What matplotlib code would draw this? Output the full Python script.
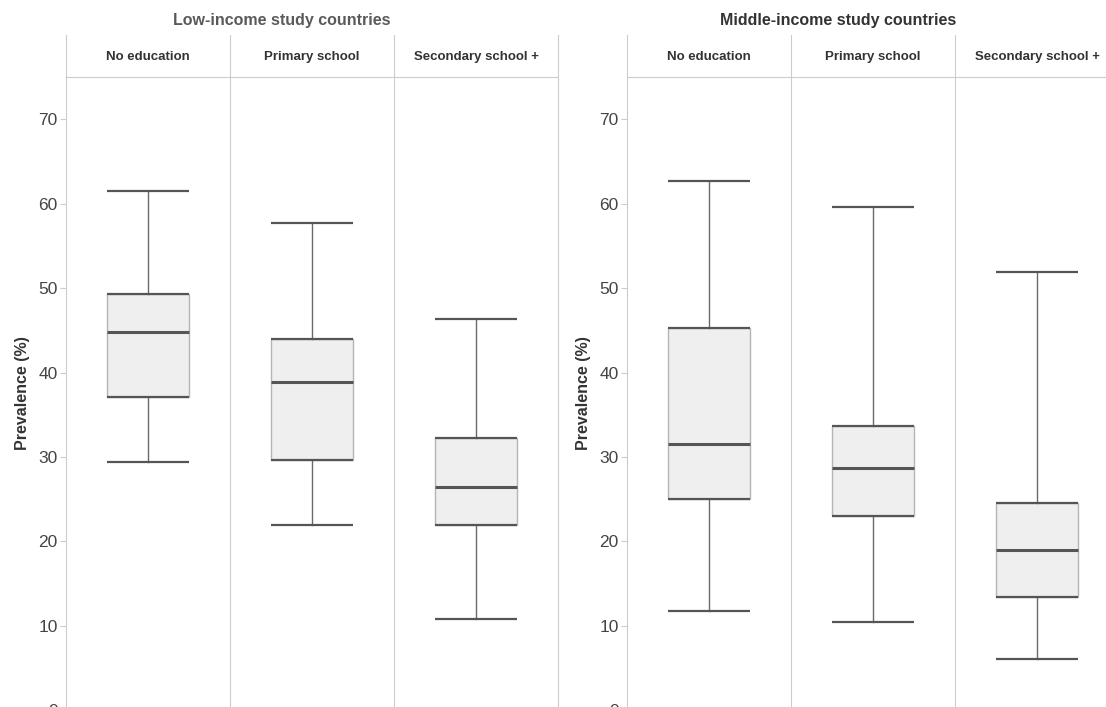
import numpy as np
import matplotlib.pyplot as plt

plt.rcParams['font.family'] = ['Liberation Sans', 'DejaVu Sans']

# data (prevalence, %)
categories = ['No education', 'Primary school', 'Secondary school +']
panel_titles = ['Low-income study countries', 'Middle-income study countries']

low_whislo = [29.4, 22.0, 10.8]
low_q1 = [37.07, 29.6, 22.0]
low_med = [44.77, 38.9, 26.45]
low_q3 = [49.36, 44.0, 32.3]
low_whishi = [61.5, 57.7, 46.3]

mid_whislo = [11.75, 10.5, 6.07]
mid_q1 = [25.0, 22.97, 13.4]
mid_med = [31.5, 28.7, 19.0]
mid_q3 = [45.25, 33.7, 24.5]
mid_whishi = [62.7, 59.6, 51.9]

yticks = [0, 10, 20, 30, 40, 50, 60, 70]

W, H = 1106, 707
fig = plt.figure(figsize=(W / 100, H / 100), dpi=100)

px_per_unit = 8.44
y_top, y_bot = 80, -1
ax_h = (y_top - y_bot) * px_per_unit
ax_top_px = 35
ax_w = 492

grid_c = '#cccccc'
dark = '#555555'
panels = [
    (66, panel_titles[0], '#5a5a5a', low_whislo, low_q1, low_med, low_q3, low_whishi, 282),
    (627, panel_titles[1], '#333333', mid_whislo, mid_q1, mid_med, mid_q3, mid_whishi, 838),
]

for left_px, title, tcol, wlo, q1, med, q3, whi, title_x in panels:
    ax = fig.add_axes([left_px / W, 1 - (ax_top_px + ax_h) / H, ax_w / W, ax_h / H])
    stats = []
    for i in range(len(categories)):
        stats.append({'med': med[i], 'q1': q1[i], 'q3': q3[i],
                      'whislo': wlo[i], 'whishi': whi[i], 'fliers': []})
    pos = np.arange(len(categories))
    ax.bxp(stats, positions=pos, widths=0.5, capwidths=0.5, patch_artist=True,
           showfliers=False,
           boxprops=dict(facecolor='#efefef', edgecolor='#b5b5b5', linewidth=1.0),
           medianprops=dict(color=dark, linewidth=2.2, solid_capstyle='butt'),
           whiskerprops=dict(color='#6a6a6a', linewidth=1.0),
           capprops=dict(color=dark, linewidth=1.6, solid_capstyle='butt'))
    # dark hinge lines at q1 / q3
    ax.hlines(q1, pos - 0.25, pos + 0.25, color=dark, lw=1.6, zorder=3)
    ax.hlines(q3, pos - 0.25, pos + 0.25, color=dark, lw=1.6, zorder=3)

    ax.set_xlim(-0.5, 2.5)
    ax.set_ylim(y_bot, y_top)
    ax.set_yticks(yticks)
    ax.set_xticks([])
    ax.tick_params(axis='y', colors=grid_c, labelcolor='#444444', labelsize=12.5,
                   length=4, width=0.8, pad=2)
    for s in ['top', 'bottom']:
        ax.spines[s].set_visible(False)
    for s in ['left', 'right']:
        ax.spines[s].set_color(grid_c)
        ax.spines[s].set_linewidth(0.8)
    for xs in [0.5, 1.5]:
        ax.axvline(xs, color=grid_c, lw=0.8, zorder=0)
    ax.axhline(75, color=grid_c, lw=0.8, zorder=0)
    for i, c in enumerate(categories):
        ax.text(i, 77.4, c, ha='center', va='center', fontsize=9.5,
                fontweight='bold', color='#333333')
    ax.set_ylabel('Prevalence (%)', fontsize=11.5, fontweight='bold',
                  color='#333333', labelpad=6)
    ax.yaxis.label.set_position((0, (37.6 - y_bot) / (y_top - y_bot)))
    fig.text(title_x / W, 1 - 21 / H, title, ha='center', va='center',
             fontsize=11.5, fontweight='bold', color=tcol)

fig.savefig('out.png', dpi=100)
